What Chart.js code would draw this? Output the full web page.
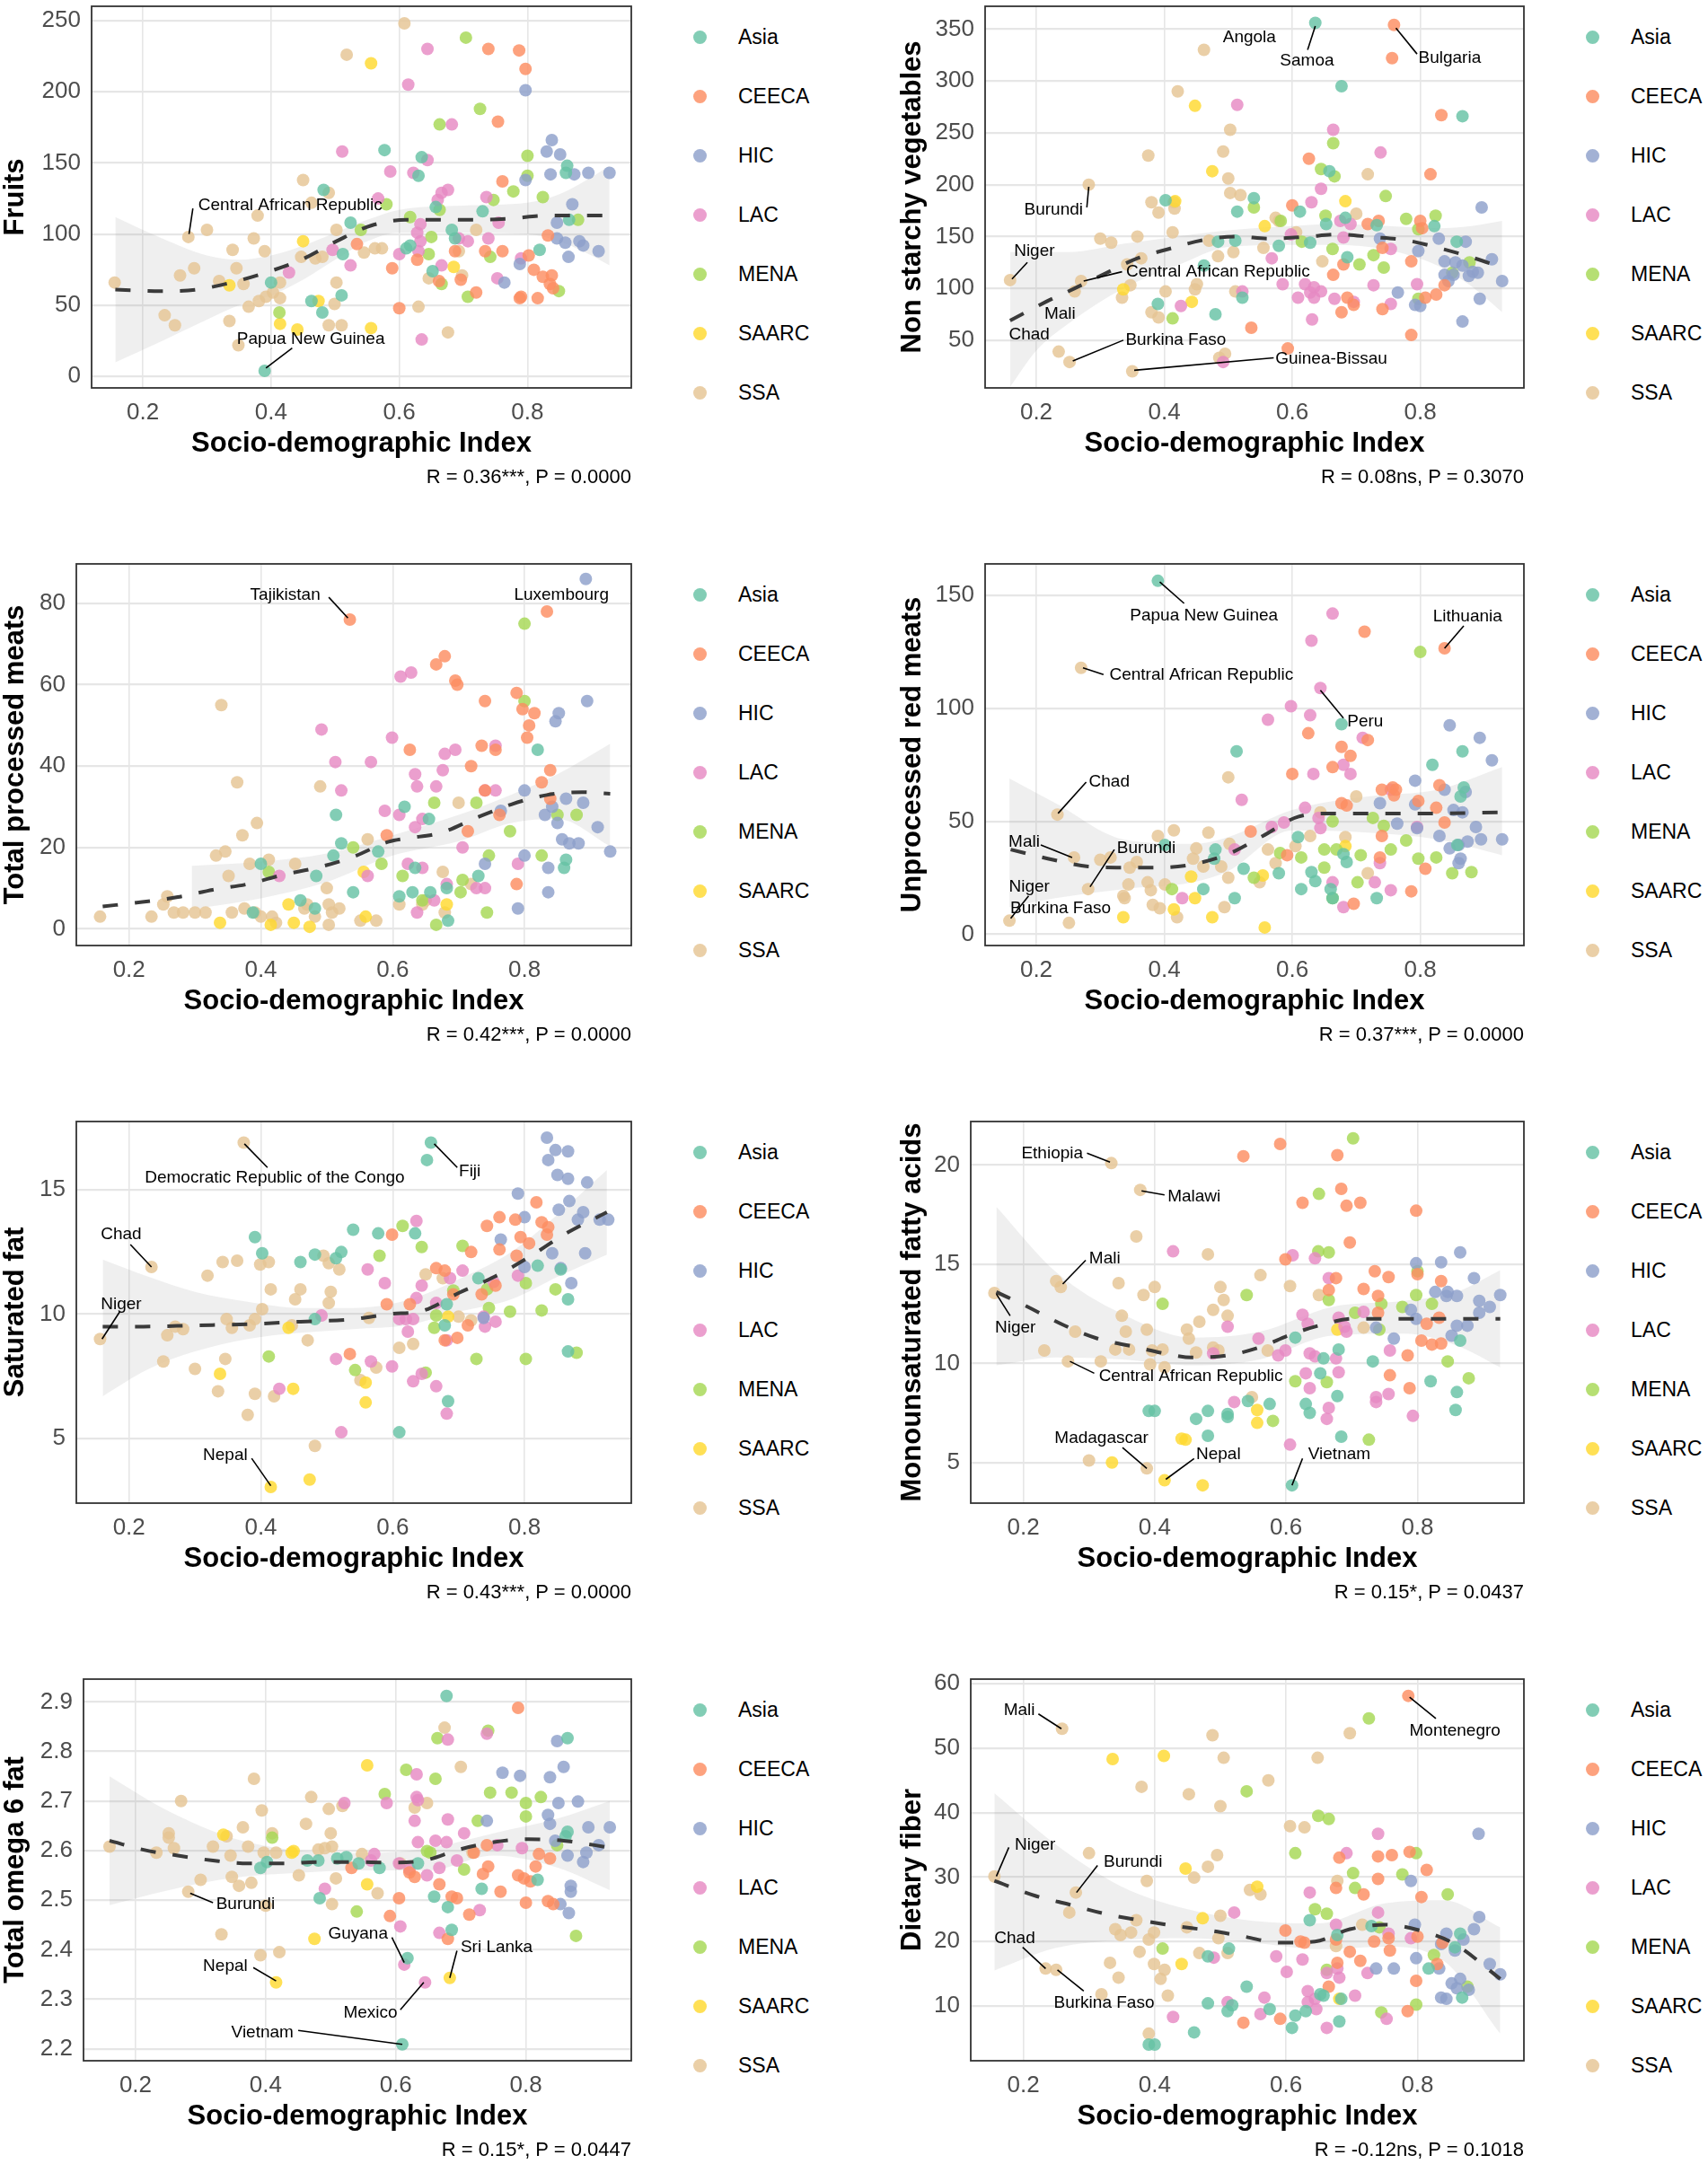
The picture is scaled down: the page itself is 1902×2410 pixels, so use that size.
<!DOCTYPE html>
<html>
<head>
<meta charset="utf-8">
<script src="https://cdn.jsdelivr.net/npm/chart.js@4.4.1/dist/chart.umd.min.js"></script>
<style>
body{margin:0;background:#fff;font-family:"Liberation Sans",Arial,sans-serif;}
#page{position:relative;width:1902px;height:2410px;overflow:hidden;background:#fff;}
canvas{position:absolute;}
.dot{position:absolute;width:15px;height:15px;border-radius:50%;}
.item{position:absolute;font-size:23px;line-height:24px;color:#000;white-space:nowrap;}
.stat{position:absolute;font-size:22px;line-height:22px;color:#000;white-space:nowrap;text-align:right;}
</style>
</head>
<body>
<div id="page"></div>
<script>
const groups = ['Asia','CEECA','HIC','LAC','MENA','SAARC','SSA'];
const groupColors = ['#66C2A5','#FC8D62','#8DA0CB','#E78AC3','#A6D854','#FFD92F','#E5C494'];
const xTicks = [0.2,0.4,0.6,0.8];

// ---------- Fruits
const fruitsAsia = [[.577,159],[.635,154],[.63,141],[.482,131],[.524,108],[.512,86],[.40,66],[.463,53],[.48,45],[.51,57],[.39,4],[.611,90],[.617,92],[.657,119],[.682,103],[.687,97],[.73,116],[.652,74],[.819,89],[.862,148],[.86,143],[.865,110]];
const fruitsCEECA = [[.739,230],[.787,229],[.797,216],[.754,179],[.761,137],[.832,99],[.802,85],[.81,75],[.824,70],[.838,71],[.835,65],[.84,62],[.788,55],[.816,55],[.72,59],[.696,68],[.734,88],[.761,88],[.60,48],[.589,76],[.628,82],[.534,93],[.662,67],[.687,88],[.79,56]];
const fruitsHIC = [[.797,201],[.797,138],[.838,166],[.83,158],[.851,156],[.836,142],[.873,142],[.895,143],[.928,143],[.87,121],[.846,108],[.846,97],[.859,94],[.864,84],[.881,95],[.887,92],[.911,88],[.788,79],[.764,66]];
const fruitsLAC = [[.644,230],[.614,205],[.682,177],[.511,158],[.586,144],[.622,143],[.644,152],[.567,125],[.666,129],[.676,131],[.66,124],[.633,107],[.628,101],[.633,95],[.60,86],[.63,88],[.693,97],[.707,95],[.736,126],[.739,97],[.755,108],[.524,78],[.496,89],[.428,73],[.666,78],[.753,69],[.79,83],[.635,26]];
const fruitsMENA = [[.704,238],[.726,188],[.663,177],[.58,121],[.54,103],[.617,112],[.663,117],[.65,98],[.646,86],[.666,65],[.707,56],[.747,124],[.742,84],[.778,130],[.80,155],[.80,141],[.824,126],[.879,110],[.849,60],[.413,45]];
const fruitsSAARC = [[.556,220],[.335,64],[.45,95],[.474,53],[.414,37],[.441,33],[.556,34],[.685,77]];
const fruitsSSA = [[.156,66],[.271,98],[.30,103],[.258,71],[.28,76],[.234,43],[.25,36],[.319,67],[.34,89],[.346,76],[.357,65],[.373,97],[.379,113],[.39,88],[.335,39],[.349,22],[.365,49],[.381,53],[.392,56],[.403,59],[.414,55],[.414,66],[.45,138],[.463,122],[.49,129],[.447,84],[.469,83],[.48,84],[.502,103],[.502,66],[.499,51],[.49,36],[.51,36],[.518,226],[.608,248],[.545,87],[.562,90],[.573,90],[.63,49],[.646,69],[.676,31],[.693,88],[.698,71],[.72,103]];
const fruitsTrend = [[.157,61],[.228,60],[.283,61],[.338,66],[.392,73],[.447,82],[.502,95],[.556,106],[.611,110],[.666,110],[.72,110],[.775,111],[.83,113],[.928,113]];
const fruitsHi = [[.157,112],[.23,97],[.3,85],[.35,82],[.4,85],[.45,92],[.5,101],[.55,110],[.6,117],[.7,120],[.8,122],[.85,128],[.9,140],[.928,148]];
const fruitsLo = [[.157,10],[.23,25],[.3,40],[.35,50],[.4,57],[.45,68],[.5,82],[.55,95],[.6,101],[.7,101],[.8,100],[.85,95],[.9,85],[.928,78]];
const fruitsLabels = [['Central African Republic',.43,120,.272,100,.278,118],['Papua New Guinea',.462,26,.392,6,.433,20]];

// ---------- Non starchy vegetables
const vegAsia = [[.636,356],[.677,295],[.866,266],[.658,213],[.402,185],[.54,187],[.514,174],[.612,174],[.653,162],[.683,168],[.822,160],[.484,145],[.511,146],[.579,141],[.628,144],[.686,130],[.857,145],[.462,122],[.39,85],[.48,75],[.522,91],[.732,161]];
const vegCEECA = [[.759,354],[.756,322],[.833,267],[.626,225],[.816,210],[.60,180],[.718,162],[.735,165],[.80,165],[.803,158],[.741,139],[.68,123],[.664,113],[.786,126],[.686,91],[.696,84],[.677,77],[.741,80],[.808,91],[.825,94],[.838,103],[.536,62],[.593,42],[.786,55]];
const vegHIC = [[.896,178],[.737,148],[.797,136],[.829,148],[.871,145],[.838,126],[.855,125],[.866,122],[.882,116],[.912,128],[.838,113],[.852,113],[.844,107],[.876,112],[.89,115],[.928,107],[.765,96],[.792,84],[.80,83],[.893,90],[.866,68]];
const vegLAC = [[.514,277],[.664,253],[.738,231],[.645,196],[.63,183],[.598,152],[.675,165],[.691,162],[.68,149],[.754,138],[.568,129],[.585,104],[.62,104],[.634,101],[.628,96],[.645,97],[.609,91],[.634,91],[.666,90],[.696,87],[.727,103],[.754,85],[.795,104],[.631,70],[.426,83],[.522,97],[.492,29]];
const vegMENA = [[.664,240],[.645,215],[.666,208],[.54,178],[.582,165],[.652,170],[.746,189],[.778,167],[.824,170],[.615,145],[.663,138],[.705,123],[.727,132],[.743,120],[.797,157],[.877,125],[.85,115],[.413,71],[.797,90]];
const vegSAARC = [[.448,276],[.475,213],[.417,184],[.557,160],[.683,184],[.443,87],[.336,99]];
const vegSSA = [[.159,108],[.282,200],[.235,39],[.252,29],[.35,20],[.26,97],[.27,107],[.30,148],[.317,144],[.358,150],[.375,228],[.38,183],[.391,173],[.415,183],[.416,177],[.413,154],[.421,290],[.462,330],[.503,253],[.492,232],[.50,206],[.503,192],[.519,190],[.47,146],[.484,131],[.508,135],[.451,104],[.448,99],[.402,97],[.38,77],[.391,72],[.334,91],[.342,123],[.364,129],[.511,97],[.495,37],[.574,168],[.579,165],[.555,139],[.606,154],[.647,126],[.70,172],[.718,210],[.486,33],[.347,103]];
const vegTrend = [[.159,69],[.215,87],[.26,100],[.31,115],[.358,129],[.407,138],[.46,146.5],[.513,150],[.564,148],[.618,149.5],[.672,152],[.724,149.5],[.777,146.5],[.829,139],[.88,130],[.928,120]];
const vegHi = [[.159,135],[.25,135],[.336,143],[.42,150],[.5,156],[.6,160],[.664,162],[.75,160],[.827,158],[.88,160],[.928,165]];
const vegLo = [[.159,5],[.2,40],[.25,66],[.336,100],[.42,122],[.5,140],[.6,142],[.664,142],[.75,137],[.827,122],[.88,102],[.928,77]];
const vegLabels = [['Angola',.533,342],['Samoa',.623,319,.636,353,.624,330],['Bulgaria',.846,322,.762,351,.795,326],['Burundi',.227,176,.282,198,.279,178],['Niger',.197,136,.162,109,.186,125],['Mali',.237,75],['Chad',.189,55],['Central African Republic',.484,116,.274,107,.334,116],['Burkina Faso',.418,50,.257,30,.336,50],['Guinea-Bissau',.661,32,.353,21,.571,33]];

// ---------- Total processed meats
const procMeatAsia = [[.40,16],[.484,13],[.514,28],[.51,18],[.522,21],[.54,9],[.46,7],[.482,5],[.388,4],[.578,19],[.618,30],[.655,27],[.63,9],[.634,15],[.657,9],[.61,8],[.682,10],[.684,2],[.73,13],[.82,44],[.863,17],[.86,15]];
const procMeatCEECA = [[.535,76],[.834,78],[.679,67],[.666,65],[.695,61],[.698,60],[.74,56],[.788,58],[.797,54],[.815,53],[.807,50],[.804,47],[.735,45],[.756,44],[.626,44],[.719,40],[.839,39],[.826,36],[.74,34],[.839,32],[.762,28],[.714,24],[.591,23],[.788,11]];
const procMeatHIC = [[.893,86],[.895,56],[.852,53],[.847,51],[.80,34],[.863,32],[.889,31],[.842,30],[.831,28],[.85,26],[.764,29],[.911,25],[.857,22],[.868,21],[.882,21],[.93,19],[.80,18],[.836,15],[.74,16],[.836,9],[.79,5]];
const procMeatLAC = [[.492,49],[.513,41],[.522,34],[.567,41],[.599,47],[.612,62],[.628,63],[.588,29],[.61,28],[.634,38],[.637,35],[.645,27],[.634,25],[.679,43],[.695,44],[.676,39],[.666,35],[.706,20],[.756,45],[.74,34],[.756,34],[.623,16],[.645,15],[.682,11],[.727,10],[.74,10],[.637,4],[.663,7],[.562,13],[.428,13],[.79,16]];
const procMeatMENA = [[.412,14],[.54,20],[.583,16],[.615,13],[.663,31],[.727,31],[.746,18],[.706,12],[.703,9],[.666,1],[.743,4],[.778,24],[.80,75],[.80,56],[.826,18],[.85,28],[.879,28],[.645,7]];
const procMeatSAARC = [[.338,1.5],[.415,1],[.442,6],[.45,1.5],[.474,0.5],[.556,14],[.559,3],[.682,6]];
const procMeatSSA = [[.156,3],[.234,3],[.252,6],[.258,8],[.268,4],[.282,4],[.30,4],[.316,4],[.332,18],[.346,19],[.34,55],[.351,13],[.364,36],[.372,23],[.383,16],[.394,26],[.356,4],[.375,5],[.391,4],[.40,3],[.412,17],[.417,3],[.423,1.5],[.452,16],[.47,6],[.482,3],[.49,35],[.50,10],[.503,6],[.508,4],[.519,5],[.503,1],[.551,2],[.575,2],[.562,22],[.70,31],[.61,6],[.645,6],[.676,14],[.719,11],[.679,4],[.65,7],[.466,5]];
const procMeatTrend = [[.16,5.5],[.22,6.6],[.274,7.8],[.327,9.6],[.38,11],[.434,13.3],[.487,15.1],[.54,17.7],[.594,21.4],[.62,22.2],[.673,23.6],[.727,27.3],[.78,30.6],[.834,32.9],[.887,33.6],[.93,33.2]];
const procMeatHi = [[.295,15.5],[.4,16.5],[.5,18.5],[.6,23],[.7,28],[.78,33],[.85,38],[.93,45.5]];
const procMeatLo = [[.295,4.8],[.4,7.5],[.5,11.5],[.6,18],[.7,21.5],[.78,26],[.85,27],[.93,20.3]];
const procMeatLabels = [['Tajikistan',.437,82,.532,76.4,.503,81.5],['Luxembourg',.856,82]];

// ---------- Unprocessed red meats
const redMeatAsia = [[.39,156.5],[.677,93],[.513,81],[.866,81],[.819,75],[.863,61],[.609,43],[.401,39.5],[.48,37.5],[.524,29],[.579,27],[.63,27.5],[.636,23.5],[.685,32],[.68,35.5],[.461,20],[.51,16],[.614,20],[.66,20],[.663,16],[.732,16],[.858,39.5],[.478,33.5],[.868,65]];
const redMeatCEECA = [[.838,126.6],[.713,134],[.625,89],[.718,86],[.677,83],[.691,79],[.663,74],[.60,71],[.74,64],[.757,65],[.762,64],[.759,61.5],[.83,66],[.797,59],[.677,58],[.685,57],[.825,56],[.838,49.5],[.535,45.5],[.592,35],[.737,34],[.74,43.5],[.808,29],[.786,19],[.696,13.5]];
const redMeatHIC = [[.846,92.5],[.893,87],[.912,77],[.792,68],[.838,64],[.871,63],[.737,58],[.792,57.5],[.852,55],[.866,54],[.764,49],[.887,47.5],[.795,47],[.83,43.5],[.895,42],[.874,41],[.86,39.5],[.928,42],[.846,38],[.863,33.5],[.86,31.5]];
const redMeatLAC = [[.663,142],[.63,130],[.644,109],[.598,101],[.628,97],[.562,95],[.71,87],[.68,75],[.691,71],[.633,71],[.521,59.5],[.754,64],[.62,56],[.641,51.5],[.568,47.5],[.587,49.5],[.644,47],[.795,47.5],[.51,37.5],[.737,31.5],[.663,23],[.729,23],[.754,19.5],[.68,12],[.428,16]];
const redMeatMENA = [[.80,125],[.663,50],[.726,51.5],[.743,48],[.778,41.5],[.581,36],[.614,34],[.65,37.5],[.669,37.5],[.707,35],[.754,37.5],[.797,33.5],[.825,34],[.65,29.5],[.54,25],[.702,23],[.663,16],[.85,27],[.88,27.5],[.412,20]];
const redMeatSAARC = [[.442,25.5],[.448,16],[.336,7.5],[.415,11],[.475,7.5],[.557,3],[.554,26],[.683,39]];
const redMeatSSA = [[.27,118],[.233,53],[.259,34],[.281,20],[.158,6],[.251,5],[.50,69.5],[.39,43.5],[.415,46],[.469,45],[.30,33],[.316,34],[.346,29.5],[.357,32],[.344,22],[.374,23],[.379,19.5],[.401,22],[.336,17],[.338,16],[.382,13],[.393,11.5],[.42,7.5],[.45,38],[.445,33.5],[.461,30],[.489,30],[.50,25],[.502,40],[.494,12],[.562,37.5],[.574,31.5],[.628,43.5],[.644,54],[.683,43],[.70,61],[.718,27],[.605,39],[.549,23]];
const redMeatTrend = [[.16,37.5],[.226,33],[.281,30],[.336,29.5],[.39,29.5],[.445,31],[.50,35.5],[.554,43.5],[.609,52],[.663,53.5],[.718,53.5],[.773,53.5],[.827,53.5],[.928,54]];
const redMeatHi = [[.158,69],[.23,58],[.336,42],[.445,40],[.5,43],[.6,55],[.718,61],[.827,64],[.928,74]];
const redMeatLo = [[.158,12],[.23,16],[.336,20],[.445,23],[.5,28],[.6,46],[.718,45],[.827,42],[.928,35]];
const redMeatLabels = [['Papua New Guinea',.462,141,.393,156,.431,146.5],['Central African Republic',.458,114.6,.273,118,.305,115],['Peru',.714,94,.644,108,.68,95.7],['Lithuania',.874,140.5,.838,126.6,.868,136.6],['Chad',.314,67.4,.234,53.5,.278,67.4],['Mali',.181,41,.207,39.5,.256,34],['Burundi',.372,38,.284,21,.322,37.5],['Niger',.189,21,.16,7,.188,17],['Burkina Faso',.238,11.5]];

// ---------- Saturated fat
const satFatAsia = [[.658,16.9],[.652,16.2],[.391,13.1],[.402,12.45],[.46,12.1],[.482,12.4],[.514,12.25],[.522,12.5],[.54,13.4],[.578,13.25],[.634,13.25],[.482,9.8],[.682,10.4],[.679,9.55],[.73,11.45],[.82,11.95],[.855,11.8],[.866,10.6],[.866,8.5],[.684,6.5],[.61,5.25]];
const satFatCEECA = [[.599,13.2],[.743,13.55],[.762,13.9],[.786,13.8],[.818,14.5],[.826,13.7],[.836,13.5],[.834,13.2],[.794,13.1],[.807,12.85],[.719,12.5],[.762,12.6],[.788,12.35],[.666,11.85],[.679,11.75],[.756,11.15],[.735,10.8],[.692,10.8],[.591,10.4],[.626,10.4],[.714,9.55],[.698,9.05],[.679,8.95],[.535,8.4]];
const satFatHIC = [[.834,17.1],[.847,16.6],[.866,16.55],[.836,16.2],[.85,15.6],[.866,15.45],[.895,15.3],[.79,14.85],[.868,14.55],[.852,14.2],[.889,14.1],[.881,13.8],[.914,13.8],[.927,13.8],[.80,13.9],[.764,13.0],[.842,12.45],[.892,12.45],[.80,11.9],[.855,11.85],[.871,11.25],[.738,9.85]];
const satFatLAC = [[.636,13.75],[.562,11.8],[.588,11.25],[.644,11.15],[.636,10.65],[.666,10.45],[.687,11.45],[.706,11.75],[.753,11.3],[.79,11.55],[.492,9.95],[.61,9.8],[.62,9.8],[.631,9.8],[.623,9.3],[.682,8.95],[.74,9.5],[.756,9.7],[.738,9.9],[.514,8.2],[.567,8.1],[.599,7.9],[.631,7.3],[.644,7.6],[.666,7.1],[.428,7.0],[.682,6.0],[.522,5.25]];
const satFatMENA = [[.615,13.55],[.644,12.7],[.58,12.35],[.706,12.75],[.692,10.95],[.746,10.25],[.778,10.1],[.826,10.15],[.802,11.25],[.847,11.0],[.666,9.95],[.663,9.45],[.743,11.0],[.727,8.2],[.802,8.2],[.879,8.45],[.412,8.3],[.543,7.75],[.65,7.65]];
const satFatSAARC = [[.415,3.05],[.474,3.35],[.338,7.6],[.449,7.0],[.442,9.45],[.559,7.25],[.559,6.45],[.684,9.9]];
const satFatSSA = [[.156,9.0],[.234,11.9],[.374,16.9],[.319,11.55],[.342,12.1],[.364,12.15],[.399,12.0],[.412,12.1],[.415,11.0],[.46,11.0],[.452,10.6],[.506,10.9],[.503,10.45],[.495,12.35],[.503,12.05],[.519,11.8],[.402,10.2],[.391,9.8],[.383,9.55],[.348,9.8],[.356,9.45],[.27,9.5],[.282,9.4],[.258,9.15],[.252,8.1],[.30,7.8],[.346,8.2],[.335,6.9],[.391,6.8],[.42,6.7],[.38,5.95],[.471,8.95],[.482,4.7],[.564,9.85],[.575,7.85],[.61,8.65],[.631,8.8],[.65,11.6],[.676,11.45],[.70,9.9],[.719,9.75],[.551,7.35],[.447,9.55]];
const satFatTrend = [[.16,9.5],[.22,9.5],[.30,9.55],[.38,9.6],[.46,9.7],[.54,9.8],[.594,10.0],[.647,10.15],[.70,10.85],[.754,11.5],[.807,12.3],[.86,13.2],[.925,14.1]];
const satFatHi = [[.16,12.2],[.23,11.5],[.3,10.9],[.38,10.5],[.46,10.25],[.54,10.25],[.62,10.55],[.7,11.4],[.78,12.5],[.85,14],[.925,15.8]];
const satFatLo = [[.16,6.7],[.23,7.8],[.3,8.5],[.38,9.0],[.46,9.25],[.54,9.4],[.62,9.55],[.7,10.1],[.78,10.6],[.85,11.5],[.925,12.4]];
const satFatLabels = [['Democratic Republic of the Congo',.421,15.5,.375,16.85,.41,15.9],['Fiji',.717,15.75,.663,16.85,.698,15.9],['Chad',.188,13.2,.234,11.9,.202,12.8],['Niger',.188,10.4,.159,9.0,.186,10.1],['Nepal',.346,4.33,.415,3.1,.386,4.2]];

// ---------- Monounsaturated fatty acids
const mufaAsia = [[.391,7.6],[.40,7.6],[.463,7.2],[.481,7.6],[.481,6.35],[.511,7.45],[.511,7.3],[.542,8.1],[.575,7.95],[.609,3.85],[.614,11.3],[.652,9.5],[.657,10.25],[.68,10.7],[.678,8.35],[.63,7.95],[.636,7.5],[.684,6.3],[.732,10.1],[.82,9.1],[.86,8.55],[.858,7.65],[.865,11.15]];
const mufaCEECA = [[.535,20.45],[.591,21.07],[.678,20.5],[.625,18.1],[.684,18.8],[.692,17.95],[.713,18.1],[.798,17.7],[.697,16.1],[.599,15.25],[.735,14.65],[.756,14.35],[.676,14.3],[.665,13.7],[.718,13.75],[.80,14.5],[.836,14.15],[.74,13.4],[.74,12.55],[.833,12.3],[.814,12.0],[.806,11.15],[.822,10.95],[.836,11.0],[.785,10.4],[.758,9.4],[.788,8.75]];
const mufaHIC = [[.865,15.6],[.798,15.05],[.836,15.1],[.886,14.3],[.827,13.6],[.846,13.6],[.86,13.4],[.844,13.4],[.894,13.15],[.91,12.85],[.926,13.45],[.894,12.55],[.79,12.7],[.798,12.25],[.86,11.9],[.876,11.9],[.852,11.4],[.764,11.25],[.737,11.8]];
const mufaLAC = [[.428,15.65],[.61,15.45],[.644,15.3],[.665,14.3],[.689,11.85],[.68,12.3],[.625,12.45],[.633,12.0],[.692,11.6],[.511,11.85],[.489,10.5],[.558,11.25],[.588,10.4],[.599,10.65],[.636,10.5],[.644,10.35],[.676,10.25],[.68,9.55],[.63,9.5],[.636,8.75],[.737,8.3],[.756,8.45],[.737,8.05],[.665,7.75],[.662,7.2],[.793,7.35],[.758,10.65],[.606,5.9],[.521,8.05],[.718,12.6]];
const mufaMENA = [[.702,21.35],[.65,18.55],[.649,15.65],[.665,15.6],[.412,13.0],[.54,13.45],[.665,13.2],[.798,13.45],[.80,14.65],[.777,12.85],[.822,13.0],[.705,12.55],[.742,11.7],[.846,10.1],[.878,9.25],[.662,9.05],[.614,9.1],[.58,7.1],[.726,6.15],[.745,13.0]];
const mufaSAARC = [[.335,5.0],[.441,6.2],[.447,6.15],[.415,4.1],[.473,3.85],[.556,7.65],[.556,7.0],[.678,11.7]];
const mufaSSA = [[.156,13.55],[.334,20.1],[.378,18.75],[.372,16.4],[.481,15.5],[.25,14.15],[.257,13.85],[.345,14.05],[.383,13.45],[.40,13.85],[.50,13.85],[.505,13.2],[.489,12.7],[.511,12.4],[.468,12.1],[.449,11.7],[.452,11.25],[.388,11.7],[.356,11.6],[.35,12.4],[.279,11.6],[.232,10.65],[.268,10.1],[.318,10.1],[.34,10.7],[.361,10.7],[.396,10.65],[.412,10.7],[.393,9.95],[.415,9.8],[.463,10.55],[.489,10.8],[.497,10.65],[.561,14.45],[.606,13.9],[.65,13.45],[.572,10.65],[.548,8.3],[.718,11.8],[.30,5.1],[.388,4.7]];
const mufaTrend = [[.159,13.6],[.207,12.85],[.26,11.95],[.313,11.25],[.367,10.85],[.415,10.5],[.457,10.3],[.51,10.4],[.559,10.8],[.607,11.45],[.649,11.9],[.702,12.25],[.756,12.25],[.83,12.25],[.926,12.25]];
const mufaHi = [[.159,17.9],[.25,14.6],[.35,12.5],[.46,11.3],[.56,11.6],[.67,12.85],[.78,13.15],[.86,13.6],[.926,14.7]];
const mufaLo = [[.159,9.9],[.25,10.3],[.35,10.2],[.46,9.9],[.56,10.2],[.67,11.4],[.78,11.5],[.86,10.9],[.926,9.8]];
const mufaLabels = [['Ethiopia',.244,20.6,.332,20.15,.297,20.6],['Malawi',.46,18.4,.38,18.7,.415,18.5],['Mali',.324,15.3,.26,14.0,.295,15.2],['Niger',.188,11.8,.159,13.5,.18,12.4],['Central African Republic',.455,9.35,.271,10.1,.308,9.5],['Madagascar',.319,6.2,.388,4.7,.351,5.75],['Nepal',.497,5.4,.417,4.15,.46,5.2],['Vietnam',.681,5.4,.609,3.85,.625,5.2]];

// ---------- Total omega 6 fat
const omega6Asia = [[.678,2.912],[.864,2.827],[.392,2.565],[.402,2.577],[.464,2.58],[.481,2.58],[.51,2.584],[.524,2.587],[.543,2.574],[.575,2.565],[.634,2.574],[.659,2.507],[.68,2.486],[.686,2.44],[.732,2.523],[.818,2.541],[.864,2.638],[.861,2.629],[.483,2.504],[.618,2.383],[.61,2.209]];
const omega6CEECA = [[.788,2.888],[.74,2.611],[.72,2.596],[.82,2.593],[.837,2.584],[.815,2.568],[.742,2.568],[.734,2.553],[.621,2.556],[.629,2.547],[.532,2.565],[.667,2.532],[.761,2.517],[.788,2.55],[.797,2.544],[.807,2.538],[.686,2.507],[.694,2.504],[.605,2.504],[.80,2.495],[.834,2.498],[.842,2.492],[.713,2.471],[.591,2.468],[.68,2.422]];
const omega6HIC = [[.848,2.821],[.858,2.769],[.764,2.757],[.791,2.751],[.837,2.748],[.85,2.696],[.88,2.699],[.834,2.672],[.837,2.654],[.74,2.66],[.896,2.647],[.929,2.647],[.912,2.611],[.893,2.596],[.864,2.59],[.888,2.577],[.869,2.529],[.869,2.517],[.853,2.492],[.866,2.474],[.845,2.62]];
const omega6LAC = [[.68,2.824],[.74,2.836],[.632,2.754],[.521,2.696],[.586,2.696],[.632,2.708],[.634,2.702],[.629,2.66],[.68,2.663],[.634,2.617],[.661,2.62],[.678,2.617],[.705,2.635],[.756,2.611],[.794,2.605],[.567,2.593],[.562,2.58],[.605,2.574],[.621,2.562],[.648,2.55],[.667,2.565],[.694,2.58],[.491,2.523],[.607,2.447],[.667,2.434],[.729,2.48],[.613,2.37],[.645,2.334]];
const omega6MENA = [[.41,2.626],[.583,2.714],[.616,2.763],[.661,2.745],[.664,2.827],[.742,2.842],[.745,2.717],[.778,2.717],[.80,2.696],[.80,2.669],[.823,2.708],[.726,2.66],[.848,2.611],[.648,2.599],[.653,2.596],[.705,2.562],[.54,2.477],[.877,2.428]];
const omega6SAARC = [[.335,2.632],[.44,2.596],[.556,2.772],[.556,2.532],[.475,2.422],[.416,2.334],[.683,2.343],[.443,2.599]];
const omega6SSA = [[.16,2.608],[.232,2.596],[.251,2.626],[.259,2.605],[.251,2.635],[.27,2.70],[.281,2.517],[.30,2.541],[.319,2.608],[.332,2.431],[.34,2.629],[.346,2.59],[.348,2.547],[.359,2.529],[.365,2.647],[.373,2.608],[.378,2.535],[.382,2.745],[.394,2.681],[.397,2.596],[.392,2.389],[.421,2.395],[.41,2.635],[.416,2.596],[.451,2.55],[.462,2.654],[.47,2.708],[.481,2.602],[.491,2.605],[.497,2.684],[.50,2.635],[.502,2.608],[.508,2.544],[.502,2.492],[.518,2.69],[.548,2.593],[.572,2.514],[.607,2.574],[.629,2.687],[.648,2.696],[.675,2.848],[.70,2.769],[.718,2.596],[.40,2.489]];
const omega6Trend = [[.16,2.62],[.211,2.602],[.265,2.59],[.319,2.58],[.373,2.574],[.427,2.574],[.481,2.577],[.535,2.577],[.589,2.576],[.643,2.58],[.697,2.602],[.751,2.617],[.804,2.623],[.858,2.62],[.929,2.606]];
const omega6Hi = [[.16,2.75],[.25,2.68],[.35,2.625],[.45,2.60],[.55,2.595],[.65,2.605],[.75,2.635],[.85,2.665],[.929,2.70]];
const omega6Lo = [[.16,2.49],[.25,2.52],[.35,2.545],[.45,2.555],[.55,2.56],[.65,2.56],[.75,2.59],[.85,2.565],[.929,2.52]];
const omega6Labels = [['Burundi',.369,2.492,.284,2.514,.319,2.495],['Guyana',.542,2.431,.613,2.374,.594,2.425],['Sri Lanka',.755,2.404,.683,2.343,.694,2.398],['Nepal',.338,2.367,.416,2.337,.381,2.364],['Mexico',.561,2.273,.643,2.334,.607,2.279],['Vietnam',.395,2.233,.61,2.209,.45,2.237]];

// ---------- Dietary fiber
const fiberAsia = [[.391,4.0],[.40,4.0],[.46,5.9],[.481,10.4],[.511,9.2],[.518,10.1],[.54,13.0],[.575,9.5],[.609,6.6],[.614,8.5],[.63,9.2],[.652,11.8],[.657,11.6],[.681,7.6],[.684,11.1],[.636,23.3],[.678,21.0],[.73,22.4],[.481,17.7],[.513,18.9],[.817,15.8],[.857,19.1],[.865,21.2],[.868,11.3]];
const fiberCEECA = [[.786,58.1],[.681,33.0],[.74,33.2],[.761,33.4],[.788,33.9],[.814,31.1],[.74,29.7],[.676,28.3],[.718,27.3],[.806,26.9],[.599,21.7],[.622,20.0],[.628,19.8],[.676,20.3],[.734,20.0],[.756,20.5],[.758,18.6],[.80,20.75],[.697,18.4],[.713,17.0],[.678,16.7],[.665,13.0],[.798,13.9],[.838,19.8],[.83,16.5],[.535,7.4],[.591,8.0],[.785,9.2]];
const fiberHIC = [[.893,36.7],[.79,29.4],[.796,22.6],[.894,23.8],[.886,21.9],[.844,21.2],[.87,20.3],[.836,19.6],[.857,18.6],[.798,17.4],[.764,15.8],[.737,15.8],[.91,16.5],[.926,14.9],[.833,15.8],[.852,13.5],[.865,14.2],[.86,12.75],[.836,11.3],[.844,11.1],[.878,12.5]];
const fiberLAC = [[.74,36.7],[.692,33.7],[.636,27.6],[.521,24.5],[.676,22.6],[.74,24.5],[.756,21.2],[.79,20.5],[.585,17.7],[.625,17.2],[.601,15.3],[.49,17.5],[.662,15.1],[.678,15.8],[.681,14.4],[.724,15.1],[.633,12.3],[.644,11.1],[.633,10.6],[.567,11.3],[.511,10.6],[.561,8.75],[.428,8.3],[.662,6.6],[.705,11.6],[.753,8.0],[.646,9.5]];
const fiberMENA = [[.726,54.6],[.54,43.3],[.649,39.5],[.665,39.0],[.614,33.7],[.702,30.6],[.705,28.3],[.777,30.4],[.798,33.7],[.846,27.3],[.644,25.0],[.662,24.3],[.742,22.2],[.825,17.9],[.412,18.9],[.662,15.6],[.745,9.0],[.798,10.2],[.876,13.0]];
const fiberSAARC = [[.336,48.3],[.414,48.8],[.447,31.3],[.473,23.6],[.441,16.5],[.556,28.5],[.681,11.1]];
const fiberSSA = [[.259,53],[.156,30.1],[.28,27.6],[.234,15.8],[.25,15.6],[.30,33.7],[.27,24.5],[.319,11.8],[.332,16.7],[.345,14.4],[.34,21.9],[.348,21.0],[.364,21.4],[.372,23.3],[.38,44.0],[.388,29.4],[.377,18.4],[.391,20.3],[.399,21.4],[.399,16.5],[.415,15.6],[.409,14.2],[.42,11.6],[.391,5.7],[.452,42.85],[.46,29.9],[.481,31.6],[.488,52.0],[.495,33.4],[.505,48.5],[.50,41.0],[.449,22.2],[.468,18.2],[.50,24.0],[.497,20.5],[.511,18.2],[.545,28.0],[.561,27.3],[.573,45.0],[.606,37.9],[.628,37.7],[.648,48.5],[.678,29.4],[.676,19.3],[.697,52.3],[.716,22.6]];
const fiberTrend = [[.156,29.4],[.218,27.1],[.271,25.7],[.324,24.3],[.377,23.3],[.431,22.4],[.484,21.7],[.537,20.75],[.59,19.8],[.644,20.0],[.697,21.9],[.75,22.6],[.804,21.7],[.857,19.6],[.926,14.2]];
const fiberHi = [[.156,43],[.25,35],[.35,28.5],[.45,25],[.55,23.2],[.65,22.8],[.75,25.9],[.84,26.4],[.926,22.2]];
const fiberLo = [[.156,15.5],[.25,19],[.35,20.2],[.45,20.5],[.55,19.8],[.65,18.8],[.75,19.2],[.84,17],[.926,5.7]];
const fiberLabels = [['Mali',.194,55.8,.258,53,.223,55.3],['Montenegro',.857,52.7,.788,57.9,.828,54.6],['Niger',.218,35,.159,30.1,.178,34.6],['Burundi',.367,32.3,.281,27.6,.313,31.8],['Chad',.187,20.5,.234,15.8,.199,19.1],['Burkina Faso',.323,10.4,.252,15.6,.292,12.3]];

const panels = [
  {title:'Fruits', pts:[fruitsAsia,fruitsCEECA,fruitsHIC,fruitsLAC,fruitsMENA,fruitsSAARC,fruitsSSA], trend:fruitsTrend, hi:fruitsHi, lo:fruitsLo, labels:fruitsLabels, yMin:-8, yMax:260, yTicks:[0,50,100,150,200,250], stat:'R = 0.36***, P = 0.0000', col:0, row:0, left:102},
  {title:'Non starchy vegetables', pts:[vegAsia,vegCEECA,vegHIC,vegLAC,vegMENA,vegSAARC,vegSSA], trend:vegTrend, hi:vegHi, lo:vegLo, labels:vegLabels, yMin:4, yMax:372, yTicks:[50,100,150,200,250,300,350], stat:'R = 0.08ns, P = 0.3070', col:1, row:0, left:1097},
  {title:'Total processed meats', pts:[procMeatAsia,procMeatCEECA,procMeatHIC,procMeatLAC,procMeatMENA,procMeatSAARC,procMeatSSA], trend:procMeatTrend, hi:procMeatHi, lo:procMeatLo, labels:procMeatLabels, yMin:-4.1, yMax:89.7, yTicks:[0,20,40,60,80], stat:'R = 0.42***, P = 0.0000', col:0, row:1, left:85},
  {title:'Unprocessed red meats', pts:[redMeatAsia,redMeatCEECA,redMeatHIC,redMeatLAC,redMeatMENA,redMeatSAARC,redMeatSSA], trend:redMeatTrend, hi:redMeatHi, lo:redMeatLo, labels:redMeatLabels, yMin:-5, yMax:164, yTicks:[0,50,100,150], stat:'R = 0.37***, P = 0.0000', col:1, row:1, left:1097},
  {title:'Saturated fat', pts:[satFatAsia,satFatCEECA,satFatHIC,satFatLAC,satFatMENA,satFatSAARC,satFatSSA], trend:satFatTrend, hi:satFatHi, lo:satFatLo, labels:satFatLabels, yMin:2.4, yMax:17.75, yTicks:[5,10,15], stat:'R = 0.43***, P = 0.0000', col:0, row:2, left:85},
  {title:'Monounsaturated fatty acids', pts:[mufaAsia,mufaCEECA,mufaHIC,mufaLAC,mufaMENA,mufaSAARC,mufaSSA], trend:mufaTrend, hi:mufaHi, lo:mufaLo, labels:mufaLabels, yMin:2.95, yMax:22.2, yTicks:[5,10,15,20], stat:'R = 0.15*, P = 0.0437', col:1, row:2, left:1081},
  {title:'Total omega 6 fat', pts:[omega6Asia,omega6CEECA,omega6HIC,omega6LAC,omega6MENA,omega6SAARC,omega6SSA], trend:omega6Trend, hi:omega6Hi, lo:omega6Lo, labels:omega6Labels, yMin:2.176, yMax:2.946, yTicks:[2.2,2.3,2.4,2.5,2.6,2.7,2.8,2.9], dec:1, stat:'R = 0.15*, P = 0.0447', col:0, row:3, left:93},
  {title:'Dietary fiber', pts:[fiberAsia,fiberCEECA,fiberHIC,fiberLAC,fiberMENA,fiberSAARC,fiberSSA], trend:fiberTrend, hi:fiberHi, lo:fiberLo, labels:fiberLabels, yMin:1.5, yMax:60.7, yTicks:[10,20,30,40,50,60], stat:'R = -0.12ns, P = 0.1018', col:1, row:3, left:1081}
];

const FONT = "'Liberation Sans', Arial, sans-serif";
const page = document.getElementById('page');
const toXY = arr => arr.map(([x, y]) => ({x, y}));

function hexA(hex, a) {
  const n = parseInt(hex.slice(1), 16);
  return `rgba(${n >> 16},${(n >> 8) & 255},${n & 255},${a})`;
}

const panelPlugin = {
  id: 'panelDecor',
  afterDatasetsDraw(chart, args, opts) {
    const {ctx, chartArea: a, scales: {x, y}} = chart;
    ctx.save();
    ctx.beginPath();
    ctx.rect(a.left, a.top, a.right - a.left, a.bottom - a.top);
    ctx.clip();
    ctx.font = '19px ' + FONT;
    ctx.textAlign = 'center';
    ctx.textBaseline = 'middle';
    ctx.fillStyle = '#000';
    ctx.strokeStyle = '#000';
    ctx.lineWidth = 1.6;
    opts.labels.forEach(l => {
      if (l.length > 3) {
        ctx.beginPath();
        ctx.moveTo(x.getPixelForValue(l[3]), y.getPixelForValue(l[4]));
        ctx.lineTo(x.getPixelForValue(l[5]), y.getPixelForValue(l[6]));
        ctx.stroke();
      }
      ctx.fillText(l[0], x.getPixelForValue(l[1]), y.getPixelForValue(l[2]));
    });
    ctx.restore();
  },
  afterDraw(chart) {
    const {ctx, chartArea: a} = chart;
    ctx.save();
    ctx.strokeStyle = '#333';
    ctx.lineWidth = 1.8;
    ctx.strokeRect(a.left, a.top, a.right - a.left, a.bottom - a.top);
    ctx.restore();
  }
};

panels.forEach(p => {
  const canvasLeft = p.col ? 1001 : 2;
  const plotRight = p.col ? 1697 : 703;
  const rowTop = 7 + p.row * 621;
  const W = plotRight - canvasLeft + 30;
  const H = 7 + 425 + 90;
  const cv = document.createElement('canvas');
  cv.width = W; cv.height = H;
  cv.style.left = canvasLeft + 'px';
  cv.style.top = (rowTop - 7) + 'px';
  cv.style.width = W + 'px';
  cv.style.height = H + 'px';
  page.appendChild(cv);

  const datasets = [
    {type: 'line', data: toXY(p.lo), borderWidth: 0, pointRadius: 0, fill: false, order: 3, cubicInterpolationMode: 'monotone'},
    {type: 'line', data: toXY(p.hi), borderWidth: 0, pointRadius: 0, fill: '-1', backgroundColor: 'rgba(150,150,150,0.15)', order: 3, cubicInterpolationMode: 'monotone'}
  ];
  groups.forEach((g, i) => {
    datasets.push({type: 'scatter', label: g, data: toXY(p.pts[i]), backgroundColor: hexA(groupColors[i], 0.82), borderWidth: 0, pointRadius: 7, order: 2});
  });
  datasets.push({type: 'line', data: toXY(p.trend), borderColor: '#3a3a3a', borderWidth: 4, borderDash: [17, 19], pointRadius: 0, fill: false, order: 1, cubicInterpolationMode: 'monotone'});

  new Chart(cv, {
    type: 'scatter',
    data: {datasets},
    options: {
      responsive: false,
      animation: false,
      devicePixelRatio: 1,
      layout: {padding: {left: 0, right: 30, top: 7, bottom: 0}},
      plugins: {legend: {display: false}, tooltip: {enabled: false}, panelDecor: {labels: p.labels}},
      scales: {
        x: {
          type: 'linear', min: 0.12, max: 0.962,
          afterBuildTicks: s => { s.ticks = xTicks.map(v => ({value: v})); },
          afterFit: s => { s.height = 90; s.paddingLeft = 0; s.paddingRight = 0; },
          grid: {color: '#e6e6e6', lineWidth: 1.6, drawTicks: false},
          border: {display: false},
          ticks: {padding: 12, color: '#4d4d4d', font: {size: 26, family: FONT}, callback: v => v.toFixed(1)},
          title: {display: true, text: 'Socio-demographic Index', color: '#000', font: {size: 31, weight: 'bold', family: FONT, lineHeight: 1}, padding: {top: 0, bottom: 12}}
        },
        y: {
          type: 'linear', min: p.yMin, max: p.yMax,
          afterBuildTicks: s => { s.ticks = p.yTicks.map(v => ({value: v})); },
          afterFit: s => { s.width = p.left - canvasLeft; s.paddingTop = 0; s.paddingBottom = 0; },
          grid: {color: '#e6e6e6', lineWidth: 2.2, drawTicks: false},
          border: {display: false},
          ticks: {padding: 12, color: '#4d4d4d', font: {size: 26, family: FONT}, callback: v => p.dec ? v.toFixed(p.dec) : String(v)},
          title: {display: true, text: p.title, color: '#000', font: {size: 31, weight: 'bold', family: FONT, lineHeight: 1}, padding: {top: 0, bottom: 0}}
        }
      }
    },
    plugins: [panelPlugin]
  });

  // legend
  const dotX = p.col ? 1773 : 779;
  const textX = p.col ? 1816 : 822;
  groups.forEach((g, i) => {
    const cy = rowTop + 34 + 66 * i;
    const d = document.createElement('div');
    d.className = 'dot';
    d.style.left = (dotX - 7.5) + 'px';
    d.style.top = (cy - 7.5) + 'px';
    d.style.background = hexA(groupColors[i], 0.82);
    page.appendChild(d);
    const t = document.createElement('div');
    t.className = 'item';
    t.textContent = g;
    t.style.left = textX + 'px';
    t.style.top = (cy - 12) + 'px';
    page.appendChild(t);
  });

  const s = document.createElement('div');
  s.className = 'stat';
  s.textContent = p.stat;
  s.style.right = (1902 - plotRight) + 'px';
  s.style.top = (rowTop + 524 - 11) + 'px';
  page.appendChild(s);
});
</script>
</body>
</html>
